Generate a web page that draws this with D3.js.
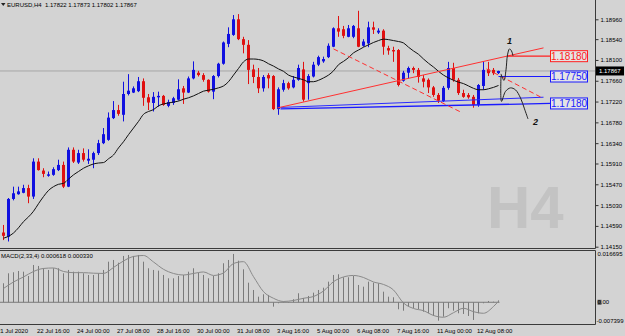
<!DOCTYPE html>
<html>
<head>
<meta charset="utf-8">
<script src="https://cdn.jsdelivr.net/npm/d3@7"></script>
<style>
  body { margin: 0; background: #d3d3d3; }
  svg { display: block; font-family: "Liberation Sans", Arial, sans-serif; }
</style>
</head>
<body>
<svg id="chart" width="625" height="336"></svg>
<script>
// EURUSD H4 candles, 21 Jul - 12 Aug 2020
const opens = [1.1445,1.1436,1.1516,1.1526,1.1529,1.1539,1.1521,1.1595,1.1576,1.1565,
  1.1567,1.1577,1.1588,1.1542,1.1620,1.1593,1.1613,1.1597,1.1599,1.1613,
  1.1634,1.1641,1.1687,1.1704,1.1694,1.1738,1.1741,1.1744,1.1765,1.1731,
  1.1719,1.1731,1.1734,1.1713,1.1719,1.1726,1.1750,1.1741,1.1771,1.1783,
  1.1778,1.1768,1.1743,1.1776,1.1802,1.1844,1.1863,1.1896,1.1854,1.1842,
  1.1790,1.1774,1.1750,1.1778,1.1776,1.1706,1.1747,1.1761,1.1752,1.1768,
  1.1790,1.1761,1.1775,1.1800,1.1807,1.1816,1.1838,1.1877,1.1875,1.1859,
  1.1859,1.1877,1.1840,1.1845,1.1879,1.1868,1.1872,1.1835,1.1831,1.1831,
  1.1766,1.1783,1.1793,1.1789,1.1771,1.1768,1.1752,1.1736,1.1723,1.1751,
  1.1793,1.1768,1.1740,1.1736,1.1732,1.1715,1.1755,1.1790,1.1789,1.17822];
const highs = [1.1461,1.1518,1.1542,1.1542,1.1546,1.1546,1.1602,1.1602,1.1581,1.1574,
  1.1583,1.1599,1.1595,1.1625,1.1625,1.1620,1.1623,1.1621,1.1616,1.1641,
  1.1666,1.1699,1.1723,1.1715,1.1764,1.1780,1.1754,1.1774,1.1771,1.1738,
  1.1742,1.1743,1.1736,1.1726,1.1732,1.1769,1.1755,1.1775,1.1807,1.1787,
  1.1782,1.1769,1.1778,1.1804,1.1849,1.1879,1.1905,1.1907,1.1859,1.1852,
  1.1800,1.1793,1.1778,1.1782,1.1778,1.1752,1.1768,1.1764,1.1776,1.1800,
  1.1806,1.1780,1.1806,1.1819,1.1817,1.1845,1.1879,1.1903,1.1882,1.1884,
  1.1884,1.1914,1.1854,1.1891,1.1891,1.1877,1.1875,1.1840,1.1838,1.1833,
  1.1787,1.1796,1.1796,1.1793,1.1778,1.1771,1.1755,1.1740,1.1755,1.1806,
  1.1804,1.1772,1.1747,1.1740,1.1736,1.1759,1.1807,1.1806,1.1793,1.17873];
const lows = [1.1429,1.1426,1.1513,1.1525,1.1528,1.1507,1.1516,1.1576,1.1562,1.1563,
  1.1565,1.1575,1.1539,1.1541,1.1592,1.1590,1.1595,1.1590,1.1581,1.1609,
  1.1632,1.1639,1.1685,1.1692,1.1680,1.1735,1.1740,1.1742,1.1713,1.1704,
  1.1701,1.1711,1.1713,1.1710,1.1715,1.1724,1.1717,1.1740,1.1769,1.1775,
  1.1764,1.1741,1.1727,1.1773,1.1800,1.1837,1.1861,1.1852,1.1824,1.1759,
  1.1761,1.1740,1.1743,1.1750,1.1704,1.1694,1.1743,1.1747,1.1750,1.1766,
  1.1722,1.1726,1.1773,1.1797,1.1804,1.1814,1.1837,1.1859,1.1856,1.1858,
  1.1856,1.1837,1.1838,1.1837,1.1865,1.1865,1.1821,1.1821,1.1806,1.1754,
  1.1764,1.1771,1.1782,1.1762,1.1752,1.1740,1.1732,1.1719,1.1721,1.1747,
  1.1764,1.1736,1.1730,1.1728,1.1709,1.1711,1.1747,1.1776,1.1778,1.17802];
const closes = [1.1438,1.1516,1.1528,1.1532,1.1539,1.1521,1.1595,1.1577,1.1569,1.1568,
  1.1579,1.1588,1.1542,1.1620,1.1595,1.1613,1.1599,1.1601,1.1613,1.1634,
  1.1653,1.1688,1.1704,1.1696,1.1738,1.1745,1.1750,1.1765,1.1730,1.1720,
  1.1732,1.1734,1.1715,1.1721,1.1729,1.1748,1.1741,1.1771,1.1789,1.1778,
  1.1768,1.1743,1.1776,1.1802,1.1847,1.1865,1.1896,1.1854,1.1842,1.1789,
  1.1774,1.1750,1.1774,1.1771,1.1706,1.1748,1.1761,1.1750,1.1768,1.1793,
  1.1726,1.1776,1.1800,1.1816,1.1812,1.1840,1.1877,1.1870,1.1861,1.1877,
  1.1882,1.1838,1.1849,1.1879,1.1874,1.1872,1.1838,1.1830,1.1828,1.1757,
  1.1783,1.1793,1.1789,1.1774,1.1764,1.1752,1.1736,1.1724,1.1751,1.1793,
  1.1768,1.1740,1.1732,1.1731,1.1715,1.1757,1.1789,1.1782,1.1782,1.17867];

// moving average (black line), one value per bar
const maValues = [1.1433,1.1437,1.1444,1.1455,1.1468,1.1478,1.1490,1.1506,1.1521,1.1534,
  1.1542,1.1547,1.1549,1.1558,1.1567,1.1574,1.1581,1.1586,1.1590,1.1592,
  1.1593,1.1601,1.1609,1.1624,1.1637,1.1652,1.1666,1.1680,1.1695,1.1701,
  1.1705,1.1713,1.1717,1.1719,1.1721,1.1723,1.1727,1.1730,1.1734,1.1739,
  1.1744,1.1746,1.1748,1.1751,1.1755,1.1764,1.1778,1.1792,1.1806,1.1812,
  1.1812,1.1811,1.1808,1.1802,1.1797,1.1791,1.1786,1.1778,1.1774,1.1771,
  1.1768,1.1764,1.1764,1.1767,1.1772,1.1778,1.1787,1.1800,1.1807,1.1815,
  1.1825,1.1831,1.1837,1.1842,1.1847,1.1851,1.1854,1.1853,1.1851,1.1849,
  1.1846,1.1837,1.1829,1.1822,1.1812,1.1803,1.1795,1.1786,1.1778,1.1772,
  1.1767,1.1763,1.1760,1.1755,1.1750,1.1747,1.1747,1.1749,1.1752,1.1756];

// MACD(2,33,4) histogram, one value per bar
const macdHist = [0.00619,0.00944,0.00977,0.01019,0.00996,0.00856,0.01214,0.01182,0.01107,0.01052,
  0.01107,0.01107,0.00944,0.01052,0.00996,0.00996,0.00944,0.00889,0.00889,0.00944,
  0.01052,0.01322,0.01377,0.01289,0.01508,0.01540,0.01508,0.01540,0.01322,0.01107,
  0.01052,0.01029,0.00889,0.00781,0.00781,0.00856,0.00889,0.00996,0.01107,0.00964,
  0.00889,0.00781,0.00856,0.00944,0.01270,0.01377,0.01573,0.01354,0.01074,0.00638,
  0.00400,0.00182,0.00260,0.00238,-0.00143,-0.00033,0.00020,-0.00013,0.00098,0.00293,
  0.00140,0.00205,0.00313,0.00400,0.00475,0.00671,0.00889,0.00912,0.00814,0.00814,
  0.00856,0.00563,0.00508,0.00671,0.00638,0.00619,0.00345,0.00182,0.00163,-0.00228,
  -0.00274,-0.00143,-0.00195,-0.00228,-0.00306,-0.00358,-0.00446,-0.00599,-0.00469,-0.00195,
  -0.00274,-0.00358,-0.00381,-0.00446,-0.00576,-0.00358,-0.00033,0.00042,0.00020,0.000618];

// MACD signal line, sampled every second bar
const signalBars = [0,2,4,6,8,10,12,14,16,18,20,22,24,26,28,30,32,34,36,38,40,42,44,46,48,
  50,52,54,56,58,60,62,64,66,68,70,72,74,76,78,80,82,84,86,88,90,92,94,96,98,99];
const signalValues = [0.00449,0.00661,0.00824,0.01003,0.01101,0.01117,0.01003,0.00964,0.00964,0.00947,
  0.00938,0.01133,0.01345,0.01491,0.01524,0.01312,0.01074,0.00938,0.00889,0.00938,
  0.00987,0.00873,0.00954,0.01263,0.01322,0.00834,0.00345,0.00130,0.00026,0.00059,
  0.00130,0.00189,0.00368,0.00671,0.00824,0.00873,0.00807,0.00661,0.00580,0.00400,
  -0.00023,-0.00202,-0.00274,-0.00430,-0.00488,-0.00339,-0.00195,-0.00306,-0.00358,-0.00137,0.00033];

const priceTicks = [1.18960,1.18540,1.18100,1.17660,1.17220,1.16780,1.16340,1.15910,1.15470,1.15030,1.14590,1.14150];
const timeLabels = ["21 Jul 2020","22 Jul 16:00","24 Jul 00:00","27 Jul 08:00","28 Jul 16:00","30 Jul 00:00",
  "31 Jul 08:00","3 Aug 16:00","5 Aug 00:00","6 Aug 08:00","7 Aug 16:00","11 Aug 00:00","12 Aug 08:00"];
const timeLabelBars = [-1,7,15,23,31,39,47,55,63,71,79,87,95];

// drawn objects: [bar, price]
const redTrend = [[54.8,1.17086],[108,1.18355]];
const redDash1 = [[66,1.18334],[91.8,1.16980]];
const redDash2 = [[96.6,1.17911],[107.4,1.17318]];
const blueLineA = [[55.4,1.17065],[109.4,1.17180]];
const blueLineB = [[55.4,1.17096],[108,1.17312]];
const levels = [
  { price: 1.18180, from: 100.8, color: "#ff2020" },
  { price: 1.17750, from: 99, color: "#1a1aff" },
  { price: 1.17180, from: null, color: "#1a1aff" }
];
const path1 = [[99.5,1.17805],[100.1,1.17667],[100.5,1.1789],[100.8,1.18207],[101.2,1.18334],[101.6,1.18291],[101.9,1.18186]];
const path2 = [[99.5,1.17763],[99.6,1.17223],[100.4,1.17435],[101.4,1.17509],[102.4,1.17467],[103.4,1.17297],[104.2,1.17065],[104.9,1.16853]];
const pathLabels = [{ t: "1", bar: 101.2, price: 1.18503 }, { t: "2", bar: 106.4, price: 1.16790 }];
const bid = 1.17867;

const svg = d3.select("#chart");
const W = 625, axisX = 595;
const bull = "#1010e0", bear = "#e01010";

const x = d3.scaleLinear().domain([0, 1]).range([3.5, 8.5]);
const y = d3.scaleLinear().domain([1.14150, 1.18960]).range([246.7, 19.3]);
const ym = d3.scaleLinear().domain([-0.007399, 0.016695]).range([325, 251]);

svg.append("rect").attr("width", W).attr("height", 336).attr("fill", "#d3d3d3");

// watermark
svg.append("text").attr("x", 487).attr("y", 228)
  .style("font-size", "60px").style("font-weight", "bold").attr("fill", "#c3c3c3").text("H4");

// bid line
svg.append("line").attr("x1", 0).attr("x2", axisX).attr("y1", y(bid)).attr("y2", y(bid))
  .attr("stroke", "#a6a6a6").attr("stroke-width", 1);

// candles
const idx = d3.range(opens.length);
const c = svg.append("g");
c.selectAll("line").data(idx).join("line")
  .attr("x1", i => x(i)).attr("x2", i => x(i))
  .attr("y1", i => y(highs[i])).attr("y2", i => y(lows[i]))
  .attr("stroke", i => closes[i] >= opens[i] ? bull : bear).attr("stroke-width", 1);
c.selectAll("rect").data(idx).join("rect")
  .attr("x", i => x(i) - 1.5).attr("width", 3)
  .attr("y", i => y(Math.max(opens[i], closes[i])))
  .attr("height", i => Math.max(1, Math.abs(y(opens[i]) - y(closes[i]))))
  .attr("fill", i => closes[i] >= opens[i] ? bull : bear);

// moving average
svg.append("path").datum(maValues)
  .attr("d", d3.line().x((d, i) => x(i)).y(d => y(d)).curve(d3.curveMonotoneX))
  .attr("fill", "none").attr("stroke", "#111").attr("stroke-width", 1);

// trend lines
const tl = d3.line().x(d => x(d[0])).y(d => y(d[1]));
svg.append("path").attr("d", tl(blueLineA)).attr("stroke", "#1a1aff").attr("stroke-width", 1.3).attr("fill", "none");
svg.append("path").attr("d", tl(blueLineB)).attr("stroke", "#2a2aff").attr("stroke-width", 1).attr("fill", "none");
svg.append("path").attr("d", tl(redTrend)).attr("stroke", "#ff3030").attr("stroke-width", 1).attr("fill", "none");
[redDash1, redDash2].forEach(d => {
  svg.append("path").attr("d", tl(d)).attr("stroke", "#ff3030").attr("stroke-width", 1)
    .attr("stroke-dasharray", "5,3").attr("fill", "none");
});

// level lines with price boxes
levels.forEach(l => {
  if (l.from !== null) {
    svg.append("line").attr("x1", x(l.from)).attr("x2", 550).attr("y1", y(l.price)).attr("y2", y(l.price))
      .attr("stroke", l.color).attr("stroke-width", 1.2);
  }
  svg.append("rect").attr("x", 550.5).attr("y", y(l.price) - 5.5).attr("width", 37).attr("height", 11)
    .attr("fill", "#e4e4e4").attr("stroke", l.color).attr("stroke-width", 1);
  svg.append("text").attr("x", 569).attr("y", y(l.price) + 3.6).attr("text-anchor", "middle")
    .style("font-size", "10px").attr("fill", l.color).text(l.price.toFixed(5));
});

// hand drawn scenarios
const cl = d3.line().x(d => x(d[0])).y(d => y(d[1])).curve(d3.curveCatmullRom);
[path1, path2].forEach(p => {
  svg.append("path").attr("d", cl(p)).attr("fill", "none").attr("stroke", "#222").attr("stroke-width", 1);
});
svg.selectAll(".plab").data(pathLabels).join("text").attr("class", "plab")
  .attr("x", d => x(d.bar)).attr("y", d => y(d.price) + 3).attr("text-anchor", "middle")
  .style("font-size", "9px").style("font-weight", "bold").style("font-style", "italic")
  .attr("fill", "#111").text(d => d.t);

// frame
const frame = svg.append("g").attr("stroke", "#3a3a3a").attr("stroke-width", 1);
frame.append("line").attr("x1", axisX + 0.5).attr("x2", axisX + 0.5).attr("y1", 0).attr("y2", 248.5);
frame.append("line").attr("x1", 0).attr("x2", axisX + 0.5).attr("y1", 248.5).attr("y2", 248.5);
frame.append("line").attr("x1", 0).attr("x2", axisX + 0.5).attr("y1", 250.5).attr("y2", 250.5);
frame.append("line").attr("x1", axisX + 0.5).attr("x2", axisX + 0.5).attr("y1", 250.5).attr("y2", 324.5);
frame.append("line").attr("x1", 0).attr("x2", axisX + 0.5).attr("y1", 324.5).attr("y2", 324.5);

// price axis
const ax = svg.append("g").attr("transform", `translate(${axisX + 0.5},0)`)
  .call(d3.axisRight(y).tickValues(priceTicks).tickFormat(d3.format(".5f")).tickSize(3).tickPadding(2));
ax.select(".domain").remove();
ax.attr("font-family", null).attr("font-size", null);
ax.selectAll("text").style("font-size", "6px").attr("fill", "#000");
ax.selectAll("line").attr("stroke", "#333");

// bid tag
svg.append("rect").attr("x", axisX + 1).attr("y", y(bid) - 4.5).attr("width", 28).attr("height", 9).attr("fill", "#000");
svg.append("text").attr("x", axisX + 4).attr("y", y(bid) + 2.2).style("font-size", "6px").attr("fill", "#fff").text(bid.toFixed(5));

// title
svg.append("path").attr("d", "M1,3L5.5,3L3.25,6Z").attr("fill", "#222");
svg.append("text").attr("x", 7).attr("y", 6.5).style("font-size", "6px").attr("fill", "#000")
  .attr("xml:space", "preserve")
  .text("EURUSD,H4  " + [opens[99], highs[99], lows[99], closes[99]].map(d => d.toFixed(5)).join(" "));

// MACD panel
svg.append("line").attr("x1", 0).attr("x2", x(opens.length - 1) + 1).attr("y1", ym(0)).attr("y2", ym(0))
  .attr("stroke", "#7a7a7a").attr("stroke-width", 1);
svg.append("g").selectAll("line").data(macdHist).join("line")
  .attr("x1", (d, i) => x(i)).attr("x2", (d, i) => x(i))
  .attr("y1", ym(0)).attr("y2", d => ym(d))
  .attr("stroke", "#7a7a7a").attr("stroke-width", 1);
svg.append("path").datum(signalBars.map((b, i) => [b, signalValues[i]]))
  .attr("d", d3.line().x(d => x(d[0])).y(d => ym(d[1])).curve(d3.curveMonotoneX))
  .attr("fill", "none").attr("stroke", "#8a8a8a").attr("stroke-width", 1);
svg.append("text").attr("x", 1).attr("y", 258).style("font-size", "6px").attr("fill", "#000")
  .text("MACD(2,33,4) " + macdHist[99].toFixed(6) + " " + signalValues[signalValues.length - 1].toFixed(6));

const macdTicks = [{ v: 0.016695, dy: 5, t: "0.016695" }, { v: 0, dy: 2.2, t: "0.00" }, { v: -0.007399, dy: -1.8, t: "-0.007399" }];
svg.append("rect").attr("x", axisX + 2.5).attr("y", ym(0) - 2.5).attr("width", 4).attr("height", 5).attr("fill", "#555");
svg.selectAll(".mt").data(macdTicks).join("text").attr("class", "mt")
  .attr("x", d => d.v < 0 ? axisX + 1.5 : axisX + 2.5).attr("y", d => ym(d.v) + d.dy)
  .style("font-size", "6px").attr("fill", "#000").text(d => d.t);

// time axis
svg.selectAll(".tl").data(timeLabels).join("text").attr("class", "tl")
  .attr("x", (d, i) => x(timeLabelBars[i]) - 1.5).attr("y", 333)
  .style("font-size", "6px").attr("fill", "#000").text(d => d);
</script>
</body>
</html>
